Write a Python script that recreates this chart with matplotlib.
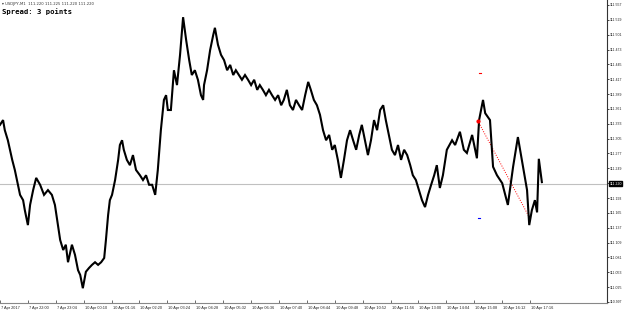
import matplotlib
matplotlib.use("Agg")
import matplotlib.pyplot as plt
import numpy as np

# ---- data (bar index on M1 chart, close price) ----
bars = [0, 7, 11, 18, 28, 34, 41, 46, 53, 57, 64, 69, 76, 83, 92, 101, 110, 119, 126, 131,
        138, 145, 151, 156, 165, 172, 179, 184, 190, 197, 204, 211, 218, 225, 232, 239, 243, 248, 252, 257,
        264, 271, 275, 280, 284, 291, 298, 305, 312, 321, 328, 335, 342, 349, 356, 362, 369, 376, 381, 385,
        392, 399, 406, 413, 420, 427, 434, 440, 447, 454, 461, 466, 468, 475, 482, 489, 493, 500, 507, 514,
        521, 528, 535, 541, 548, 555, 562, 569, 576, 583, 590, 596, 603, 610, 617, 624, 631, 638, 645, 651,
        658, 665, 672, 679, 686, 693, 700, 707, 713, 720, 727, 734, 741, 748, 755, 762, 768, 775, 782, 789,
        796, 803, 810, 817, 824, 830, 837, 844, 851, 858, 865, 872, 879, 885, 892, 899, 906, 913, 920, 927,
        934, 941, 947, 954, 961, 968, 975, 982, 989, 996, 1002, 1009, 1016, 1025, 1037, 1044, 1055, 1064, 1071, 1083,
        1094, 1099, 1108, 1113, 1124, 1131, 1140, 1152, 1165, 1177, 1188, 1197, 1209, 1214, 1220, 1227, 1232, 1236, 1243]
prices = [111.331, 111.340, 111.321, 111.302, 111.265, 111.246, 111.218, 111.199, 111.189, 111.170,
          111.142, 111.180, 111.208, 111.231, 111.218, 111.199, 111.208, 111.199, 111.180, 111.152,
          111.114, 111.095, 111.105, 111.072, 111.105, 111.086, 111.057, 111.048, 111.023, 111.054,
          111.061, 111.067, 111.072, 111.067, 111.072, 111.080, 111.114, 111.161, 111.189, 111.199,
          111.227, 111.265, 111.293, 111.302, 111.284, 111.265, 111.255, 111.274, 111.246, 111.236,
          111.227, 111.236, 111.218, 111.218, 111.199, 111.246, 111.321, 111.378, 111.387, 111.359,
          111.359, 111.434, 111.406, 111.463, 111.534, 111.491, 111.453, 111.425, 111.434, 111.416,
          111.387, 111.378, 111.406, 111.434, 111.472, 111.500, 111.514, 111.482, 111.463, 111.453,
          111.434, 111.444, 111.425, 111.434, 111.425, 111.416, 111.425, 111.416, 111.406, 111.416,
          111.397, 111.406, 111.397, 111.387, 111.397, 111.387, 111.378, 111.387, 111.368, 111.378,
          111.397, 111.368, 111.359, 111.378, 111.368, 111.359, 111.387, 111.412, 111.397, 111.378,
          111.368, 111.350, 111.321, 111.302, 111.312, 111.284, 111.293, 111.265, 111.231, 111.265,
          111.302, 111.321, 111.302, 111.284, 111.312, 111.331, 111.302, 111.274, 111.302, 111.340,
          111.321, 111.359, 111.368, 111.340, 111.312, 111.284, 111.274, 111.293, 111.265, 111.284,
          111.274, 111.255, 111.236, 111.227, 111.208, 111.189, 111.176, 111.199, 111.218, 111.236,
          111.255, 111.212, 111.236, 111.284, 111.302, 111.293, 111.318, 111.284, 111.278, 111.312,
          111.268, 111.340, 111.378, 111.353, 111.340, 111.252, 111.236, 111.221, 111.180, 111.252,
          111.308, 111.265, 111.208, 111.142, 111.170, 111.189, 111.166, 111.267, 111.223]

current_price = 111.220
y_top_label = 111.557
y_step = 0.028
n_ylabels = 21

time_labels = ["7 Apr 2017", "7 Apr 22:00", "7 Apr 23:04", "10 Apr 00:10", "10 Apr 01:16",
               "10 Apr 02:20", "10 Apr 03:24", "10 Apr 04:28", "10 Apr 05:32", "10 Apr 06:36",
               "10 Apr 07:40", "10 Apr 08:44", "10 Apr 09:48", "10 Apr 10:52", "10 Apr 11:56",
               "10 Apr 13:00", "10 Apr 14:04", "10 Apr 15:08", "10 Apr 16:12", "10 Apr 17:16"]
bars_per_label = 64

# trade markers
sig_bar, sig_price = 1097, 111.338
tp_bar, tp_price = 1101, 111.429
sl_bar, sl_price = 1099, 111.155
exit_start = (1101, 111.331)
exit_end = (1214, 111.157)

# ---- figure ----
W, H = 625, 313
fig = plt.figure(figsize=(W / 100, H / 100), dpi=100)
fig.patch.set_facecolor("white")
ax = fig.add_axes([0, (H - 303) / H, 607 / W, 303 / H])
ax.set_facecolor("white")

k = y_step / 14.85
ytop = y_top_label + 5 * k
ybot = ytop - 303 * k
ax.set_ylim(ybot, ytop)
px_per_bar = 27.9 / bars_per_label
ax.set_xlim(0, 607 / px_per_bar)

ax.axhline(current_price, color="#c0c0c0", lw=0.8, zorder=1)
ax.plot(bars, prices, color="black", lw=1.5, zorder=3, solid_joinstyle="miter")

ax.plot([sig_bar], [sig_price], marker="o", ms=2, color="red", zorder=4)
ax.plot([tp_bar - 3, tp_bar + 3], [tp_price, tp_price], color="red", lw=0.8)
ax.plot([sl_bar - 3, sl_bar + 3], [sl_price, sl_price], color="blue", lw=0.8)
ax.plot([exit_start[0], exit_end[0]], [exit_start[1], exit_end[1]], color="red", lw=0.7,
        ls=(0, (1, 1.5)), zorder=2)

for s in ["top", "left"]:
    ax.spines[s].set_visible(False)
ax.spines["right"].set_color("#333333")
ax.spines["bottom"].set_color("#888888")
ax.spines["right"].set_linewidth(0.8)
ax.spines["bottom"].set_linewidth(0.8)

ax.yaxis.tick_right()
yt = [y_top_label - i * y_step for i in range(n_ylabels)]
# the tick label under the current-price box is hidden, as in the terminal
ylabels = ["" if abs(v - current_price) < y_step / 2 else f"{v:.3f}" for v in yt]
ax.set_yticks(yt)
ax.set_yticklabels(ylabels, fontsize=2.5, family="Liberation Sans")
ax.tick_params(axis="y", length=1.5, width=0.6, pad=0.6, colors="#222222")

xt = [i * bars_per_label for i in range(len(time_labels))]
ax.set_xticks(xt)
ax.set_xticklabels([])
ax.tick_params(axis="x", length=2, width=0.6, colors="#555555", direction="in")
for x, lab in zip(xt, time_labels):
    ax.text(x + 1.0 / px_per_bar, ybot - 5 * k, lab, fontsize=2.8, ha="left", va="center",
            color="#222222", family="Liberation Sans", clip_on=False)

# current price label
ax.text(1.004, (current_price - ybot) / (ytop - ybot), f"{current_price:.3f}",
        transform=ax.transAxes, fontsize=2.5, color="white", ha="left", va="center",
        family="Liberation Sans",
        bbox=dict(boxstyle="square,pad=0.15", fc="black", ec="black"), clip_on=False)

fig.text(2 / W, 1 - 4 / H, "\u25be USDJPY,M1  111.220 111.225 111.220 111.220", fontsize=2.7,
         color="#333333", ha="left", va="center")
fig.text(2 / W, 1 - 12 / H, "Spread: 3 points", fontsize=5.2, family="DejaVu Sans Mono",
         weight="bold", color="black", ha="left", va="center")

fig.savefig("out.png", dpi=100, facecolor="white")
